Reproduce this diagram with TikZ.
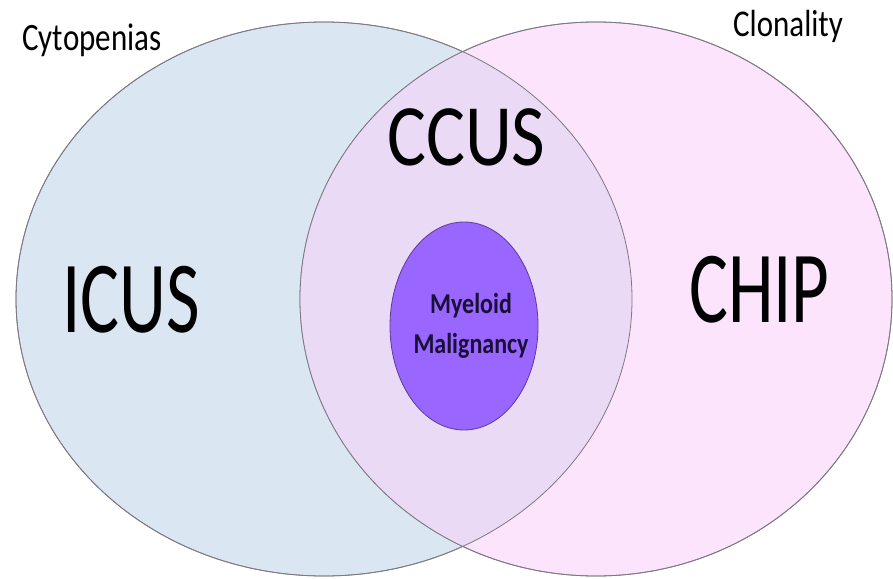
\documentclass[tikz,border=0pt]{standalone}
\usepackage{fontspec}
\setmainfont{Carlito}
\usetikzlibrary{shapes.geometric, positioning}
\definecolor{cytofill}{RGB}{219,230,243}
\definecolor{clonefill}{RGB}{252,228,252}
\definecolor{bothfill}{RGB}{235,218,246}
\definecolor{corefill}{RGB}{153,102,255}
\definecolor{coreline}{RGB}{90,60,150}
\definecolor{rimgray}{RGB}{125,120,130}
\definecolor{coretext}{RGB}{25,15,55}

\tikzset{
  setring/.style = {ellipse, draw=rimgray, line width=0.8pt, inner sep=0pt},
  setname/.style = {inner sep=0pt, anchor=base west, font=\fontsize{31}{37}\selectfont},
  bigname/.style = {inner sep=0pt, anchor=base west, font=\fontsize{73}{86}\selectfont},
}

\begin{document}
\begin{tikzpicture}[x=1pt, y=-1pt]
  \useasboundingbox (0,0) rectangle (893,578);
  % the two sets
  \node[setring, fill=cytofill, minimum width=616pt, minimum height=554pt] (cyto) at (324,299) {};
  \node[setring, fill=clonefill, minimum width=592pt, minimum height=554pt] (clone) at (596,299) {};
  % overlap
  \begin{scope}
    \clip (cyto.center) ellipse (308 and 277);
    \fill[bothfill] (clone.center) ellipse (296 and 277);
  \end{scope}
  \draw[rimgray, line width=0.8pt] (cyto.center) ellipse (308 and 277);
  \draw[rimgray, line width=0.8pt] (clone.center) ellipse (296 and 277);
  % core
  \node[ellipse, draw=coreline, line width=0.8pt, fill=corefill, minimum width=148pt, minimum height=208pt,
        inner sep=0pt] (mm) at (464,326) {};
  % labels
  \node[setname] (cytolbl) at (22,50) {\scalebox{1}[1.25]{Cytopenias}};
  \node[setname] (clonelbl) at (733,37) {\scalebox{1}[1.22]{Clonality}};
  \node[bigname] (icus) at (62,332) {\scalebox{1}[1.4]{ICUS}};
  \node[bigname] (chip) at (689,322) {\scalebox{1}[1.4]{CHIP}};
  \node[bigname] (ccus) at (387,165) {\scalebox{1}[1.2]{CCUS}};
  \node[inner sep=0pt, anchor=base, text=coretext, font=\bfseries\fontsize{24}{40}\selectfont, align=center]
    (mmlbl) at (471,353) {\scalebox{1}[1.2]{Myeloid}\\\scalebox{1}[1.2]{Malignancy}};
\end{tikzpicture}
\end{document}
